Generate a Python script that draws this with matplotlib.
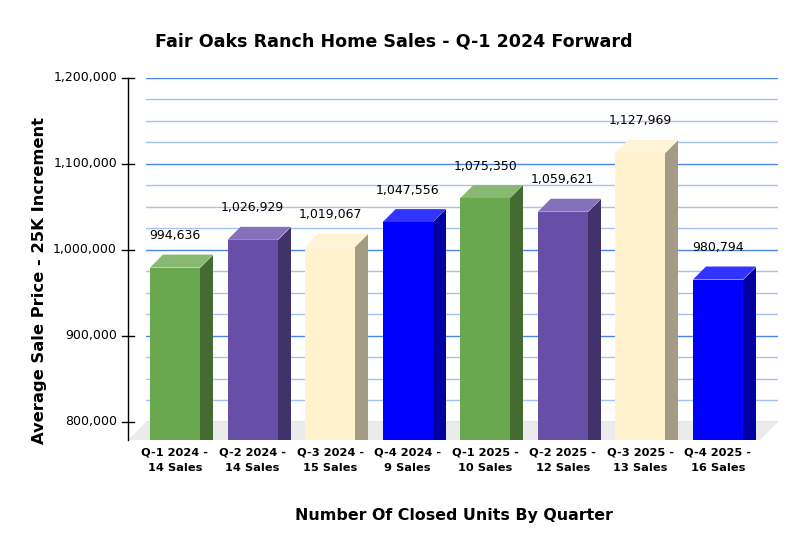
import matplotlib
matplotlib.use("Agg")
import matplotlib.pyplot as plt
from matplotlib.patches import Polygon
from matplotlib.transforms import IdentityTransform
import numpy as np

# ---- data ----
quarters = ["Q-1 2024 -", "Q-2 2024 -", "Q-3 2024 -", "Q-4 2024 -",
            "Q-1 2025 -", "Q-2 2025 -", "Q-3 2025 -", "Q-4 2025 -"]
sales_counts = ["14 Sales", "14 Sales", "15 Sales", "9 Sales",
                "10 Sales", "12 Sales", "13 Sales", "16 Sales"]
avg_prices = [994636, 1026929, 1019067, 1047556, 1075350, 1059621, 1127969, 980794]
y_ticks = [800000, 900000, 1000000, 1100000, 1200000]
y_minor = list(range(800000, 1200001, 25000))

title = "Fair Oaks Ranch Home Sales - Q-1 2024 Forward"
xlabel = "Number Of Closed Units By Quarter"
ylabel = "Average Sale Price - 25K Increment"

# ---- styles ----
front_cols = ["#6AA84F", "#674EA7", "#FFF2CC", "#0000FF"] * 2
side_cols = ["#436B32", "#42326B", "#A39B83", "#0000A3"] * 2
top_cols = ["#88B973", "#8571B9", "#FFF3D5", "#3333FF"] * 2

W, H, DPI = 805, 553, 100
fig = plt.figure(figsize=(W / DPI, H / DPI), dpi=DPI)
fig.patch.set_facecolor("white")

# back wall axes (pixel layout)
L, R, T, B = 146, 778, 78, 422
ax = fig.add_axes([L / W, (H - B) / H, (R - L) / W, (B - T) / H])
ax.set_xlim(-0.541, 7.606)
ax.set_ylim(y_ticks[0], y_ticks[-1])
ax.axis("off")

DEPTH_FLOOR = 18  # px
DEPTH_BAR = 13    # px
BAR_W = 0.645

# gridlines on back wall
for v in y_minor:
    major = (v % 100000 == 0)
    ax.axhline(v, color="#4A86E8" if major else "#A4C2F4", lw=1.0, zorder=1)

fig.canvas.draw()
to_disp = ax.transData.transform

# floor
bl = to_disp((ax.get_xlim()[0], y_ticks[0]))
br = to_disp((ax.get_xlim()[1], y_ticks[0]))
floor = Polygon([bl, br, br - DEPTH_FLOOR, bl - DEPTH_FLOOR], closed=True,
                facecolor="#EBEBEB", edgecolor="none", transform=IdentityTransform(), zorder=2)
fig.add_artist(floor)
floor_front_y = bl[1] - DEPTH_FLOOR

# bars
for i, v in enumerate(avg_prices):
    btl = to_disp((i - BAR_W / 2, v))
    btr = to_disp((i + BAR_W / 2, v))
    d = np.array([DEPTH_BAR, DEPTH_BAR])
    ftl, ftr = btl - d, btr - d
    fbl = np.array([ftl[0], floor_front_y])
    fbr = np.array([ftr[0], floor_front_y])
    side = Polygon([ftr, fbr, [btr[0], floor_front_y], btr], closed=True,
                   facecolor=side_cols[i], edgecolor="none", transform=IdentityTransform(), zorder=3)
    top = Polygon([ftl, ftr, btr, btl], closed=True,
                  facecolor=top_cols[i], edgecolor="none", transform=IdentityTransform(), zorder=3)
    front = Polygon([ftl, ftr, fbr, fbl], closed=True,
                    facecolor=front_cols[i], edgecolor="none", transform=IdentityTransform(), zorder=4)
    for p in (side, top, front):
        fig.add_artist(p)
    cx = (ftl[0] + ftr[0]) / 2
    fig.text(cx / W, (btl[1] + 19) / H, f"{v:,}", ha="center", va="center",
             fontsize=9, color="black", zorder=5)
    fig.text(cx / W, (H - 452.7) / H, quarters[i], ha="center", va="center",
             fontsize=8.2, fontweight="bold")
    fig.text(cx / W, (H - 468.2) / H, sales_counts[i], ha="center", va="center",
             fontsize=8.2, fontweight="bold")

# y axis line + ticks
axis_x = L - DEPTH_FLOOR
top_y = to_disp((0, y_ticks[-1]))[1]
fig.add_artist(plt.Line2D([axis_x, axis_x], [top_y, floor_front_y], color="black", lw=1.0,
                          transform=IdentityTransform(), zorder=6))
for v in y_ticks:
    yy = to_disp((0, v))[1]
    fig.add_artist(plt.Line2D([axis_x - 6, axis_x + 6], [yy, yy], color="black", lw=1.0,
                              transform=IdentityTransform(), zorder=6))
    fig.text((axis_x - 11) / W, yy / H, f"{v:,}", ha="right", va="center", fontsize=9)

# titles
fig.text(393.5 / W, (H - 41.7) / H, title, ha="center", va="center", fontsize=12.65, fontweight="bold")
fig.text(453.5 / W, (H - 515.7) / H, xlabel, ha="center", va="center", fontsize=11.4, fontweight="bold")
fig.text(40 / W, (H - 280) / H, ylabel, ha="center", va="center", rotation=90,
         fontsize=11.8, fontweight="bold")

fig.savefig("out.png", dpi=DPI)
